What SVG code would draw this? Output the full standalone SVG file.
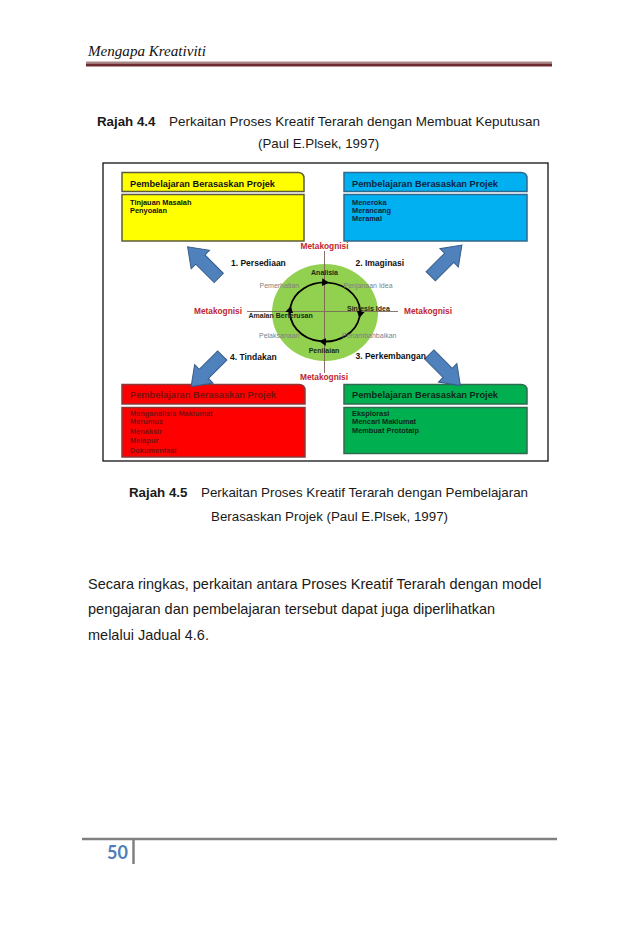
<svg xmlns="http://www.w3.org/2000/svg" width="638" height="925" viewBox="0 0 638 925">
<style>
.cap{font-family:"Liberation Sans",Arial,sans-serif;font-size:13.3px;fill:#1a1a1a}
.capb{font-weight:bold}
.para{font-family:"Liberation Sans",Arial,sans-serif;font-size:14.5px;fill:#1a1a1a}
.hd{font-family:"Liberation Sans",Arial,sans-serif;font-size:9px;font-weight:bold}
.bd{font-family:"Liberation Sans",Arial,sans-serif;font-size:7.4px;font-weight:bold}
.meta{font-family:"Liberation Sans",Arial,sans-serif;font-size:8.3px;font-weight:bold;fill:#c0262c}
.stage{font-family:"Liberation Sans",Arial,sans-serif;font-size:8.5px;font-weight:bold;fill:#111}
.kb{font-family:"Liberation Sans",Arial,sans-serif;font-size:7px;font-weight:bold;fill:#1b2a16}
.kg{font-family:"Liberation Sans",Arial,sans-serif;font-size:7px;fill:#7f7f7f}
.barrow{fill:#4f81bd;stroke:#385d8a;stroke-width:1}
.cyc{fill:none;stroke:#000;stroke-width:1.8;marker-end:url(#ah)}
</style>
<defs>
<path id="barrow" d="M0,-6.5 H26 V-13 L44,0 L26,13 V6.5 H0 Z"/>
<marker id="ah" markerUnits="userSpaceOnUse" markerWidth="8" markerHeight="8" refX="6" refY="4" orient="auto">
<path d="M0,0 L7,4 L0,8 Z" fill="#000"/>
</marker>
</defs>
<rect width="638" height="925" fill="#fff"/>

<g id="page-header">
<text x="88" y="56" font-family="'Liberation Serif','DejaVu Serif',serif" font-style="italic" font-size="15" fill="#111" textLength="118" lengthAdjust="spacingAndGlyphs">Mengapa Kreativiti</text>
<rect x="86" y="61.5" width="466" height="2" fill="#a98888"/>
<rect x="86" y="63.5" width="466" height="3" fill="#6c2c2f"/>
</g>

<g id="caption-4-4">
<text class="cap" x="97" y="126"><tspan class="capb">Rajah 4.4</tspan></text>
<text class="cap" x="169" y="126" textLength="371" lengthAdjust="spacingAndGlyphs">Perkaitan Proses Kreatif Terarah dengan Membuat Keputusan</text>
<text class="cap" x="258" y="148">(Paul E.Plsek, 1997)</text>
</g>

<rect id="frame" x="103" y="163" width="445" height="298" fill="#fff" stroke="#111" stroke-width="1.3"/>

<g id="box-yellow">
<path d="M122,172.5 H298 Q304,172.5 304,178.5 V191.5 H122 Z" fill="#ffff00" stroke="#5c5c3c" stroke-width="1.5"/>
<rect x="122" y="194.5" width="182" height="46.5" fill="#ffff00" stroke="#5c5c3c" stroke-width="1.5"/>
<text class="hd" x="130" y="186.5" fill="#111" textLength="145" lengthAdjust="spacingAndGlyphs">Pembelajaran Berasaskan Projek</text>
<text class="bd" x="130" y="204.5" fill="#111">Tinjauan Masalah</text>
<text class="bd" x="130" y="213.3" fill="#111">Penyoalan</text>
</g>

<g id="box-blue">
<path d="M344,172.5 H521 Q527,172.5 527,178.5 V191.5 H344 Z" fill="#00b0f0" stroke="#2e6a8f" stroke-width="1.5"/>
<rect x="344" y="194.5" width="183" height="46.5" fill="#00b0f0" stroke="#2e6a8f" stroke-width="1.5"/>
<text class="hd" x="352" y="186.5" fill="#10243f" textLength="146" lengthAdjust="spacingAndGlyphs">Pembelajaran Berasaskan Projek</text>
<text class="bd" x="352" y="204.5" fill="#10243f">Meneroka</text>
<text class="bd" x="352" y="212.8" fill="#10243f">Merancang</text>
<text class="bd" x="352" y="221.1" fill="#10243f">Meramal</text>
</g>

<g id="box-red">
<path d="M122,384.5 H299 Q305,384.5 305,390.5 V404 H122 Z" fill="#ff0000" stroke="#8b3a3a" stroke-width="1.5"/>
<rect x="122" y="407.5" width="183" height="49.5" fill="#ff0000" stroke="#8b3a3a" stroke-width="1.5"/>
<text class="hd" x="130" y="398.3" fill="#7a1010" textLength="146" lengthAdjust="spacingAndGlyphs">Pembelajaran Berasaskan Projek</text>
<text class="bd" x="130" y="415.5" fill="#7a1010">Menganalisis Maklumat</text>
<text class="bd" x="130" y="424.3" fill="#7a1010">Merumus</text>
<text class="bd" x="130" y="433.6" fill="#7a1010">Menaksir</text>
<text class="bd" x="130" y="442.9" fill="#7a1010">Melapur</text>
<text class="bd" x="130" y="452.5" fill="#7a1010">Dokumentasi</text>
</g>

<g id="box-green">
<path d="M344,384.5 H521 Q527,384.5 527,390.5 V404 H344 Z" fill="#00b050" stroke="#2f6b50" stroke-width="1.5"/>
<rect x="344" y="407.5" width="183" height="46" fill="#00b050" stroke="#2f6b50" stroke-width="1.5"/>
<text class="hd" x="352" y="397.8" fill="#0d2a1a" textLength="146" lengthAdjust="spacingAndGlyphs">Pembelajaran Berasaskan Projek</text>
<text class="bd" x="352" y="415.6" fill="#0d2a1a">Eksplorasi</text>
<text class="bd" x="352" y="424.3" fill="#0d2a1a">Mencari Maklumat</text>
<text class="bd" x="352" y="433.2" fill="#0d2a1a">Membuat Prototaip</text>
</g>

<g id="cycle">
<ellipse cx="325" cy="312.5" rx="53" ry="48.5" fill="#92d050"/>
<line x1="324.5" y1="251" x2="324.5" y2="373" stroke="#7a6055" stroke-width="0.9"/>
<line x1="247" y1="311.5" x2="398" y2="311.5" stroke="#7a6a60" stroke-width="0.9"/>
</g>

<g id="connectors">
<path class="cyc" d="M290.5,306.9 A35,29.5 0 0 1 328.05,282.6"/>
<path class="cyc" d="M328.05,282.6 A35,29.5 0 0 1 359.5,317.1"/>
<path class="cyc" d="M359.5,317.1 A35,29.5 0 0 1 320.1,341.2"/>
<path class="cyc" d="M320.1,341.2 A35,29.5 0 0 1 290.5,306.9"/>
<use href="#barrow" class="barrow" transform="translate(205.5,264.7) rotate(-135) translate(-18.7,0)"/>
<use href="#barrow" class="barrow" transform="translate(444,263) rotate(-45) translate(-18.7,0)"/>
<use href="#barrow" class="barrow" transform="translate(209,368.7) rotate(135) translate(-18.7,0)"/>
<use href="#barrow" class="barrow" transform="translate(442.5,367.7) rotate(45) translate(-18.7,0)"/>
</g>

<g id="labels">
<text class="meta" x="324.5" y="248.5" text-anchor="middle">Metakognisi</text>
<text class="meta" x="194" y="313.5">Metakognisi</text>
<text class="meta" x="404" y="313.5">Metakognisi</text>
<text class="meta" x="324" y="380" text-anchor="middle">Metakognisi</text>
<text class="stage" x="231" y="266">1.  Persediaan</text>
<text class="stage" x="355.5" y="266">2.  Imaginasi</text>
<text class="stage" x="230" y="360">4.  Tindakan</text>
<text class="stage" x="355.5" y="359">3.  Perkembangan</text>
<text class="kb" x="324.5" y="275" text-anchor="middle">Analisia</text>
<text class="kg" x="259.5" y="287.5">Pemerhatian</text>
<text class="kg" x="343.5" y="287.5">Penjanaan Idea</text>
<text class="kb" x="347" y="311">Sintesis Idea</text>
<text class="kb" x="248.5" y="318">Amalan Berterusan</text>
<text class="kg" x="259" y="337.7">Pelaksanaan</text>
<text class="kg" x="342" y="337.7">Penambahbaikan</text>
<text class="kb" x="324" y="353.3" text-anchor="middle">Penilaian</text>
</g>

<g id="caption-4-5">
<text class="cap" x="129" y="497"><tspan class="capb">Rajah 4.5</tspan></text>
<text class="cap" x="201" y="497" textLength="327" lengthAdjust="spacingAndGlyphs">Perkaitan Proses Kreatif Terarah dengan Pembelajaran</text>
<text class="cap" x="211" y="520.5" textLength="237" lengthAdjust="spacingAndGlyphs">Berasaskan Projek (Paul E.Plsek, 1997)</text>
</g>

<g id="paragraph">
<text class="para" x="88" y="588.5">Secara ringkas, perkaitan antara Proses Kreatif Terarah dengan model</text>
<text class="para" x="88" y="614">pengajaran dan pembelajaran tersebut dapat juga diperlihatkan</text>
<text class="para" x="88" y="639.5">melalui Jadual 4.6.</text>
</g>

<g id="page-footer">
<line x1="82" y1="839" x2="557" y2="839" stroke="#808080" stroke-width="2.5"/>
<line x1="133.5" y1="839" x2="133.5" y2="864" stroke="#808080" stroke-width="2.5"/>
<text x="107" y="859" font-family="Lato,'Open Sans',sans-serif" font-weight="bold" font-size="18" fill="#4f7fb5">50</text>
</g>
</svg>
